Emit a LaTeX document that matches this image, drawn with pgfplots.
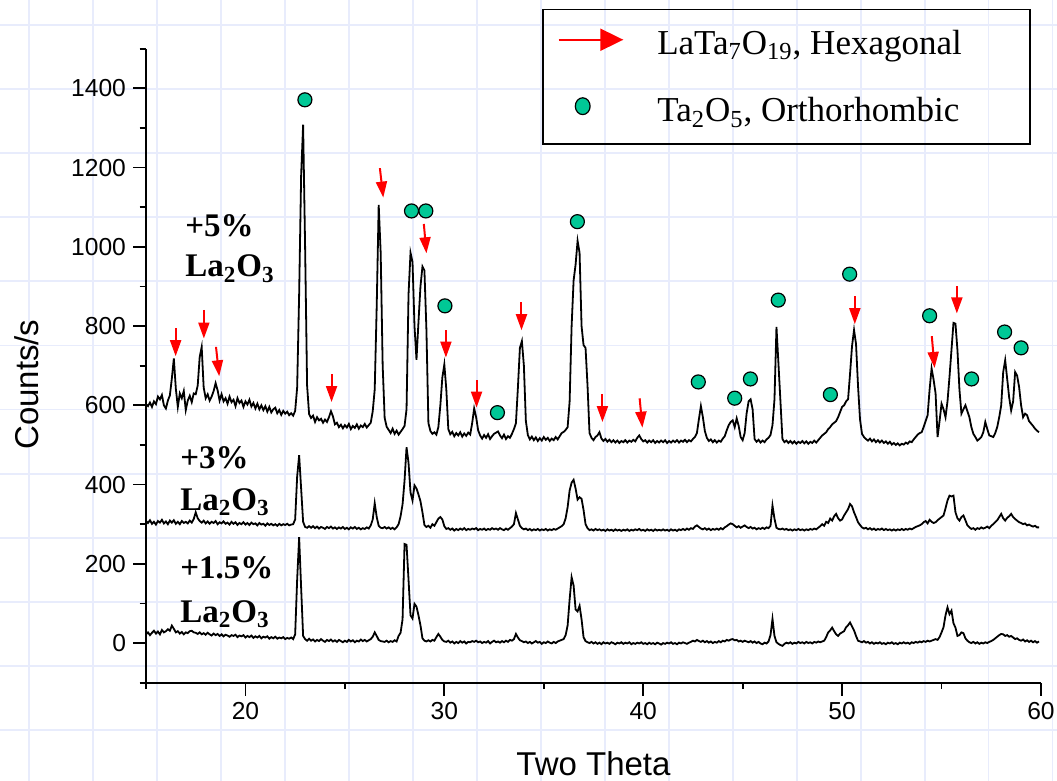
\documentclass[border=0pt]{standalone}
\usepackage{fontspec}
\setmainfont{Liberation Serif}
\newfontfamily\arial{Liberation Sans}
\usepackage{pgfplots}
\pgfplotsset{compat=1.18}
\usepackage{pgfplotstable}
\usetikzlibrary{arrows.meta}
\definecolor{gridlav}{RGB}{232,236,252}
\definecolor{dotgreen}{RGB}{0,200,150}
\definecolor{arrowred}{RGB}{255,0,0}

% two theta, +5%, +3%, +1.5% La2O3
\pgfplotstableread{
x a b c
15.0 603 308 22
15.1 598 303 27
15.2 607 310 20
15.3 596 301 26
15.4 610 306 31
15.5 603 299 24
15.6 622 308 29
15.7 615 304 22
15.8 626 311 33
15.9 600 302 27
16.0 592 307 30
16.1 612 300 35
16.2 625 309 31
16.3 668 304 44
16.4 718 310 36
16.5 642 301 27
16.6 596 306 30
16.7 630 300 24
16.8 618 308 28
16.9 636 303 22
17.0 588 306 27
17.1 612 302 25
17.2 624 309 30
17.3 608 304 31
17.4 630 313 27
17.5 628 330 26
17.6 650 315 23
17.7 722 308 27
17.8 747 304 22
17.9 645 309 25
18.0 618 302 21
18.1 628 307 26
18.2 612 301 22
18.3 622 306 19
18.4 636 303 24
18.5 656 308 20
18.6 638 300 23
18.7 612 305 18
18.8 628 302 22
18.9 610 307 17
19.0 618 301 21
19.1 604 304 19
19.2 622 299 16
19.3 608 306 20
19.4 614 301 18
19.5 598 305 21
19.6 618 298 15
19.7 606 303 19
19.8 612 300 17
19.9 596 305 20
20.0 610 299 14
20.1 602 303 18
20.2 614 298 15
20.3 597 304 19
20.4 606 300 13
20.5 592 302 17
20.6 604 297 14
20.7 590 303 18
20.8 600 299 12
20.9 588 301 16
21.0 598 296 14
21.1 584 302 17
21.2 596 298 11
21.3 582 301 15
21.4 590 297 12
21.5 594 300 16
21.6 580 296 11
21.7 588 301 14
21.8 576 297 12
21.9 586 300 15
22.0 579 298 10
22.1 584 301 13
22.2 575 297 11
22.3 580 299 14
22.4 574 300 10
22.5 586 312 22
22.6 645 420 160
22.7 880 474 267
22.8 1180 390 140
22.9 1308 306 18
23.0 1000 293 10
23.1 650 291 6
23.2 578 295 11
23.3 568 291 6
23.4 574 295 9
23.5 558 290 4
23.6 570 294 8
23.7 562 289 5
23.8 566 293 10
23.9 556 291 6
24.0 564 288 3
24.1 558 293 8
24.2 570 290 5
24.3 585 294 9
24.4 572 289 4
24.5 552 292 7
24.6 556 288 3
24.7 545 292 8
24.8 551 289 5
24.9 542 293 2
25.0 550 288 6
25.1 544 291 3
25.2 553 287 8
25.3 540 292 4
25.4 548 289 7
25.5 543 293 2
25.6 552 288 6
25.7 541 291 4
25.8 549 287 9
25.9 545 290 5
26.0 553 288 8
26.1 544 292 4
26.2 550 289 7
26.3 556 297 10
26.4 585 312 16
26.5 640 353 27
26.6 850 318 18
26.7 1106 296 8
26.8 985 291 5
26.9 700 290 4
27.0 568 293 3
27.1 546 289 6
27.2 538 292 2
27.3 530 288 5
27.4 541 291 3
27.5 528 287 7
27.6 536 292 4
27.7 526 300 18
27.8 533 320 26
27.9 540 350 60
28.0 548 410 250
28.1 590 494 248
28.2 880 455 160
28.3 985 380 70
28.4 962 360 62
28.5 800 398 99
28.6 715 390 92
28.7 810 375 70
28.8 900 358 45
28.9 950 330 12
29.0 940 298 6
29.1 790 293 4
29.2 555 296 7
29.3 535 291 4
29.4 528 300 8
29.5 532 296 6
29.6 526 305 15
29.7 545 314 23
29.8 600 318 16
29.9 670 312 8
30.0 703 295 4
30.1 640 288 3
30.2 540 290 6
30.3 527 286 1
30.4 533 289 4
30.5 522 284 -1
30.6 530 288 3
30.7 524 285 0
30.8 532 289 5
30.9 521 286 1
31.0 529 290 4
31.1 523 285 -1
31.2 531 288 3
31.3 526 286 2
31.4 555 289 5
31.5 592 287 3
31.6 570 290 6
31.7 537 285 2
31.8 524 288 4
31.9 516 286 0
32.0 525 289 3
32.1 518 285 1
32.2 527 288 5
32.3 515 286 -1
32.4 522 290 3
32.5 528 287 6
32.6 531 289 2
32.7 534 286 4
32.8 524 290 1
32.9 517 287 5
33.0 526 285 2
33.1 515 289 6
33.2 522 286 3
33.3 518 290 8
33.4 528 294 6
33.5 540 300 10
33.6 555 328 23
33.7 645 312 14
33.8 745 296 7
33.9 762 290 5
34.0 700 287 2
34.1 560 289 4
34.2 525 285 0
34.3 514 288 3
34.4 521 284 -1
34.5 512 287 2
34.6 519 285 5
34.7 510 288 1
34.8 517 284 3
34.9 511 287 -2
35.0 520 285 2
35.1 513 288 0
35.2 518 284 4
35.3 510 287 1
35.4 516 285 -1
35.5 512 288 3
35.6 520 286 0
35.7 514 289 4
35.8 522 292 6
35.9 530 295 8
36.0 533 300 10
36.1 538 315 20
36.2 545 343 45
36.3 610 385 110
36.4 800 405 166
36.5 915 412 145
36.6 955 390 85
36.7 1015 362 80
36.8 985 368 94
36.9 800 364 60
37.0 752 336 15
37.1 745 300 5
37.2 650 290 2
37.3 530 285 0
37.4 518 287 3
37.5 512 284 -1
37.6 520 288 2
37.7 524 285 -2
37.8 532 287 1
37.9 516 284 -3
38.0 510 286 2
38.1 515 283 -1
38.2 508 287 1
38.3 513 284 -2
38.4 507 286 2
38.5 512 283 0
38.6 506 287 -3
38.7 511 284 1
38.8 505 286 -1
38.9 510 283 2
39.0 507 286 -2
39.1 512 284 1
39.2 506 287 -1
39.3 511 283 2
39.4 508 286 -3
39.5 513 284 0
39.6 509 287 -2
39.7 518 285 1
39.8 524 288 -1
39.9 515 284 2
40.0 509 286 -2
40.1 512 283 0
40.2 506 287 -3
40.3 511 284 1
40.4 507 286 -2
40.5 512 283 0
40.6 505 287 -3
40.7 510 284 1
40.8 506 286 -1
40.9 511 284 -4
41.0 507 287 0
41.1 512 284 -2
41.2 505 286 1
41.3 510 283 -1
41.4 506 287 2
41.5 511 284 -2
41.6 507 286 0
41.7 512 283 -3
41.8 506 287 1
41.9 511 285 -1
42.0 508 288 2
42.1 513 285 0
42.2 507 289 -2
42.3 512 286 1
42.4 509 290 3
42.5 515 288 6
42.6 520 294 4
42.7 530 297 8
42.8 565 293 5
42.9 598 289 3
43.0 570 287 6
43.1 535 290 2
43.2 518 286 5
43.3 510 289 1
43.4 514 285 4
43.5 507 288 0
43.6 512 286 3
43.7 506 289 1
43.8 511 286 5
43.9 508 290 2
44.0 516 287 6
44.1 522 292 4
44.2 537 295 8
44.3 550 299 6
44.4 558 302 9
44.5 562 300 10
44.6 545 296 7
44.7 567 292 8
44.8 548 295 4
44.9 520 291 6
45.0 512 294 3
45.1 530 297 6
45.2 580 293 4
45.3 610 290 2
45.4 615 293 5
45.5 590 289 1
45.6 515 291 4
45.7 508 287 0
45.8 513 290 3
45.9 506 288 -1
46.0 511 291 -3
46.1 507 288 1
46.2 514 292 -1
46.3 518 290 4
46.4 525 296 20
46.5 550 347 61
46.6 615 314 18
46.7 798 291 2
46.8 705 288 -2
46.9 610 287 -5
47.0 515 289 -7
47.1 507 286 -2
47.2 511 288 1
47.3 505 285 -1
47.4 510 287 2
47.5 504 284 -2
47.6 509 287 1
47.7 503 285 -1
47.8 508 288 3
47.9 505 285 0
48.0 510 287 2
48.1 504 284 -1
48.2 509 287 3
48.3 503 285 0
48.4 508 288 2
48.5 505 286 -1
48.6 511 289 3
48.7 506 287 1
48.8 512 291 4
48.9 518 295 2
49.0 524 300 4
49.1 528 296 6
49.2 532 306 15
49.3 540 303 27
49.4 545 314 32
49.5 552 309 39
49.6 556 320 30
49.7 560 326 22
49.8 570 315 18
49.9 583 309 24
50.0 596 312 27
50.1 600 322 30
50.2 610 330 40
50.3 615 338 45
50.4 680 351 52
50.5 750 345 42
50.6 790 330 32
50.7 755 318 18
50.8 650 305 6
50.9 565 298 4
51.0 528 292 2
51.1 520 289 5
51.2 515 291 1
51.3 511 287 3
51.4 516 290 -1
51.5 509 286 2
51.6 514 289 -2
51.7 507 285 1
51.8 512 288 -1
51.9 506 286 2
52.0 511 289 -2
52.1 505 285 0
52.2 509 288 -3
52.3 503 285 1
52.4 508 287 -1
52.5 501 284 2
52.6 505 287 -2
52.7 500 284 0
52.8 504 287 -3
52.9 499 285 1
53.0 503 288 -1
53.1 501 285 2
53.2 506 288 -1
53.3 503 286 1
53.4 509 289 -2
53.5 507 287 2
53.6 514 290 0
53.7 520 293 3
53.8 526 295 1
53.9 530 297 4
54.0 532 300 2
54.1 545 305 5
54.2 560 308 3
54.3 575 302 6
54.4 640 311 4
54.5 693 306 6
54.6 665 303 8
54.7 630 305 10
54.8 520 310 8
54.9 560 314 15
55.0 604 318 27
55.1 590 322 40
55.2 570 340 70
55.3 610 360 90
55.4 672 372 73
55.5 740 370 82
55.6 808 372 50
55.7 806 330 39
55.8 739 315 18
55.9 640 309 20
56.0 579 318 27
56.1 590 322 25
56.2 600 310 12
56.3 585 297 6
56.4 570 292 2
56.5 545 288 0
56.6 528 290 3
56.7 520 286 -1
56.8 511 290 2
56.9 515 288 -2
57.0 520 292 1
57.1 532 289 -1
57.2 558 291 2
57.3 540 294 0
57.4 524 290 3
57.5 522 296 5
57.6 520 300 8
57.7 530 305 12
57.8 545 310 16
57.9 570 318 20
58.0 600 326 23
58.1 684 315 22
58.2 714 309 18
58.3 667 316 20
58.4 620 320 16
58.5 587 326 18
58.6 610 318 14
58.7 684 313 10
58.8 675 309 12
58.9 646 305 8
59.0 600 303 6
59.1 570 300 9
59.2 579 302 4
59.3 575 297 7
59.4 560 299 3
59.5 554 296 6
59.6 548 294 2
59.7 541 296 5
59.8 536 292 1
59.9 532 292 4
}\xrd

% LaTa7O19 arrows: start point and offset to the tip
\pgfplotstableread{
x y u v
16.49 794.7 0 -70.8
17.91 840.6 0 -72.0
18.52 747.4 0.16 -74.1
24.33 678.4 0 -70.1
26.76 1198.5 0.17 -74.3
28.97 1057.6 0.13 -74.0
30.08 789.6 0 -69.0
31.62 663.2 0 -69.0
33.88 859.7 0 -70.1
37.95 627.8 0 -70.0
39.82 617.7 0.14 -74.1
50.64 875.6 0 -70.8
54.51 774.5 0.14 -80.2
55.77 900.9 0 -69.0
}\hexarrows

\begin{document}
\begin{tikzpicture}[x=0.5pt,y=0.5pt]
\useasboundingbox (0,0) rectangle (1057,781);
\fill[white] (0,0) rectangle (1057,781);
\foreach \k in {0,...,16} \draw[gridlav,line width=0.9pt] ({29.3+63.95*\k},0) -- ({29.3+63.95*\k},781);
\foreach \k in {0,...,11} \draw[gridlav,line width=0.9pt] (0,{756-64.1*\k}) -- (1057,{756-64.1*\k});
\begin{axis}[
  at={(73pt,49.15pt)},anchor=south west,
  scale only axis,width=447.5pt,height=317pt,
  xmin=15,xmax=60,ymin=-100,ymax=1500,
  xtick={20,30,40,50,60},minor xtick={15,25,35,45,55},
  ytick={0,200,...,1400},minor ytick={-100,100,300,500,700,900,1100,1300,1500},
  axis x line*=bottom,axis y line*=left,
  xtick pos=bottom,ytick pos=left,
  tick align=outside,
  major tick length=6.5pt,minor tick length=3.2pt,
  every tick/.style={black,line width=0.85pt},
  axis line style={line width=0.85pt},
  tick label style={font=\arial\fontsize{12.3}{14}\selectfont},
  /pgf/number format/assume math mode=true,
  /pgf/number format/1000 sep={},
  xlabel={Two Theta},ylabel={Counts/s},
  every axis x label/.style={at={(axis description cs:0.5,-0.127)},anchor=center,
    font=\arial\fontsize{16.5}{19}\selectfont},
  every axis y label/.style={at={(axis description cs:-0.133,0.47)},anchor=center,rotate=90,
    font=\arial\fontsize{16.5}{19}\selectfont},
  legend cell align=left,
  legend style={at={(axis description cs:0.443,1.0626)},anchor=north west,
    draw=black,line width=0.75pt,fill=none,
    inner xsep=7.25pt,inner ysep=9.5pt,row sep=20pt,column sep=16.5pt,
    nodes={inner sep=0pt},font=\fontsize{17.5}{21}\selectfont},
]
\addplot[black,line width=0.9pt,forget plot] table[x=x,y=a]{\xrd};
\addplot[black,line width=0.9pt,forget plot] table[x=x,y=b]{\xrd};
\addplot[black,line width=0.9pt,forget plot] table[x=x,y=c]{\xrd};

\addplot[arrowred,line width=1pt,-{Triangle[length=8pt,width=5.5pt]},
  quiver={u=\thisrow{u},v=\thisrow{v}},
  legend image code/.code={\draw[arrowred,line width=1pt,-{Triangle[length=11.5pt,width=11pt]}] (0pt,1.9pt) -- (32.3pt,1.9pt);}]
  table[x=x,y=y]{\hexarrows};
\addlegendentry{\makebox[179pt][l]{LaTa\textsubscript{7}O\textsubscript{19}, Hexagonal}}

\addplot[only marks,mark=*,mark size=3.5pt,mark options={fill=dotgreen,draw=black,line width=0.6pt},
  legend image code/.code={\path[draw=black,line width=0.6pt,fill=dotgreen] (12pt,2.5pt) ellipse (3.7pt and 4.2pt);}]
  coordinates {(22.99,1371) (28.35,1090.5) (29.07,1090.5) (30.03,851) (32.67,581.5)
    (36.69,1063.5) (42.77,659) (44.60,618) (45.39,666.5) (46.79,865.5) (49.41,627)
    (50.38,931) (54.40,826) (56.51,666.5) (58.17,785) (59.0,745)};
\addlegendentry{\makebox[179pt][l]{Ta\textsubscript{2}O\textsubscript{5}, Orthorhombic}}

\node[anchor=base west,inner sep=0,font=\bfseries\fontsize{16.5}{19}\selectfont] at (axis cs:16.96,1025) {+5\%};
\node[anchor=base west,inner sep=0,font=\bfseries\fontsize{16.5}{19}\selectfont] at (axis cs:16.96,924) {La\textsubscript{2}O\textsubscript{3}};
\node[anchor=base west,inner sep=0,font=\bfseries\fontsize{16.5}{19}\selectfont] at (axis cs:16.71,440) {+3\%};
\node[anchor=base west,inner sep=0,font=\bfseries\fontsize{16.5}{19}\selectfont] at (axis cs:16.71,334) {La\textsubscript{2}O\textsubscript{3}};
\node[anchor=base west,inner sep=0,font=\bfseries\fontsize{16.5}{19}\selectfont] at (axis cs:16.71,162) {+1.5\%};
\node[anchor=base west,inner sep=0,font=\bfseries\fontsize{16.5}{19}\selectfont] at (axis cs:16.71,52) {La\textsubscript{2}O\textsubscript{3}};
\end{axis}
\end{tikzpicture}
\end{document}
